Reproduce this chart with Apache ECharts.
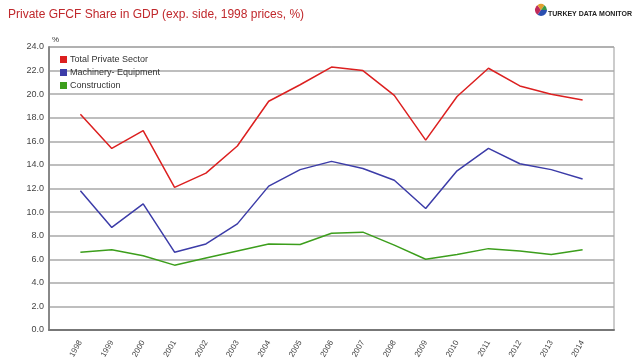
<!DOCTYPE html>
<html><head><meta charset="utf-8">
<script src="https://cdn.jsdelivr.net/npm/echarts@6/dist/echarts.min.js"></script>
<style>html,body{margin:0;padding:0;background:#fff}#c{width:640px;height:364px}</style>
</head><body><div id="c"></div>
<script>
const years = [1998,1999,2000,2001,2002,2003,2004,2005,2006,2007,2008,2009,2010,2011,2012,2013,2014];
const totalPrivate = [18.3,15.4,16.9,12.1,13.3,15.6,19.4,20.8,22.3,22.0,19.9,16.1,19.8,22.2,20.7,20.0,19.5];
const machinery = [11.8,8.7,10.7,6.6,7.3,9.0,12.2,13.6,14.3,13.7,12.7,10.3,13.5,15.4,14.1,13.6,12.8];
const construction = [6.6,6.8,6.3,5.5,6.1,6.7,7.3,7.25,8.2,8.3,7.2,6.0,6.4,6.9,6.7,6.4,6.8];
const seriesNames = ['Total Private Sector','Machinery- Equipment','Construction'];
const colors = ['#dc2020','#3c3ca8','#3c9e1c'];
const pair = arr => years.map((y,i)=>[y,arr[i]]);

const chart = echarts.init(document.getElementById('c'), null, {renderer:'canvas'});
chart.setOption({
  animation:false,
  backgroundColor:'#fff',
  title:[{text:'Private GFCF Share in GDP (exp. side, 1998 prices, %)',left:3,top:4,
    textStyle:{color:'#c0282c',fontSize:12,fontWeight:'normal',fontFamily:'Liberation Sans'}},
    {text:'TURKEY DATA MONITOR',right:3,top:6,textStyle:{color:'#222',fontSize:7,fontWeight:'bold',fontFamily:'Liberation Sans'}},
    {text:'%',left:47,top:31,textStyle:{color:'#333',fontSize:8,fontWeight:'normal',fontFamily:'Liberation Sans'}}],
  graphic:[
    {type:'sector',shape:{cx:541,cy:10,r:6,startAngle:0,endAngle:Math.PI*0.7},style:{fill:'#2a4fb0'}},
    {type:'sector',shape:{cx:541,cy:10,r:6,startAngle:Math.PI*0.7,endAngle:Math.PI*1.3},style:{fill:'#c02a5a'}},
    {type:'sector',shape:{cx:541,cy:10,r:6,startAngle:Math.PI*1.3,endAngle:Math.PI*1.7},style:{fill:'#e0a030'}},
    {type:'sector',shape:{cx:541,cy:10,r:6,startAngle:Math.PI*1.7,endAngle:Math.PI*2},style:{fill:'#3a9a4a'}}
  ],
  legend:{orient:'vertical',left:55,top:50,itemWidth:7,itemHeight:7,itemGap:4,icon:'rect',
    textStyle:{fontSize:9,color:'#333',fontFamily:'Liberation Sans',padding:[0,0,0,-2]},
    data:seriesNames},
  grid:{left:49,right:26,top:47,bottom:34,show:true,borderColor:'#999',borderWidth:1},
  xAxis:{type:'value',min:1997,max:2015,interval:1,
    axisLine:{show:true,lineStyle:{color:'#777',width:2}},
    axisTick:{show:false},splitLine:{show:false},
    axisLabel:{rotate:60,fontSize:8,color:'#444',fontFamily:'Liberation Sans',margin:11,
      formatter:v=>(v>=years[0]&&v<=years[years.length-1])?String(v):''}},
  yAxis:{type:'value',min:0,max:24,interval:2,
    axisLine:{show:true,lineStyle:{color:'#888',width:2}},
    axisTick:{show:false},
    splitLine:{show:true,lineStyle:{color:'#a8a8a8',width:1.5}},
    axisLabel:{fontSize:9,color:'#444',fontFamily:'Liberation Sans',margin:5,formatter:v=>v.toFixed(1)}},
  series:[
    {name:seriesNames[0],type:'line',data:pair(totalPrivate),symbol:'none',lineStyle:{width:1.5,color:colors[0]},itemStyle:{color:colors[0]}},
    {name:seriesNames[1],type:'line',data:pair(machinery),symbol:'none',lineStyle:{width:1.5,color:colors[1]},itemStyle:{color:colors[1]}},
    {name:seriesNames[2],type:'line',data:pair(construction),symbol:'none',lineStyle:{width:1.5,color:colors[2]},itemStyle:{color:colors[2]}}
  ]
});
</script></body></html>
